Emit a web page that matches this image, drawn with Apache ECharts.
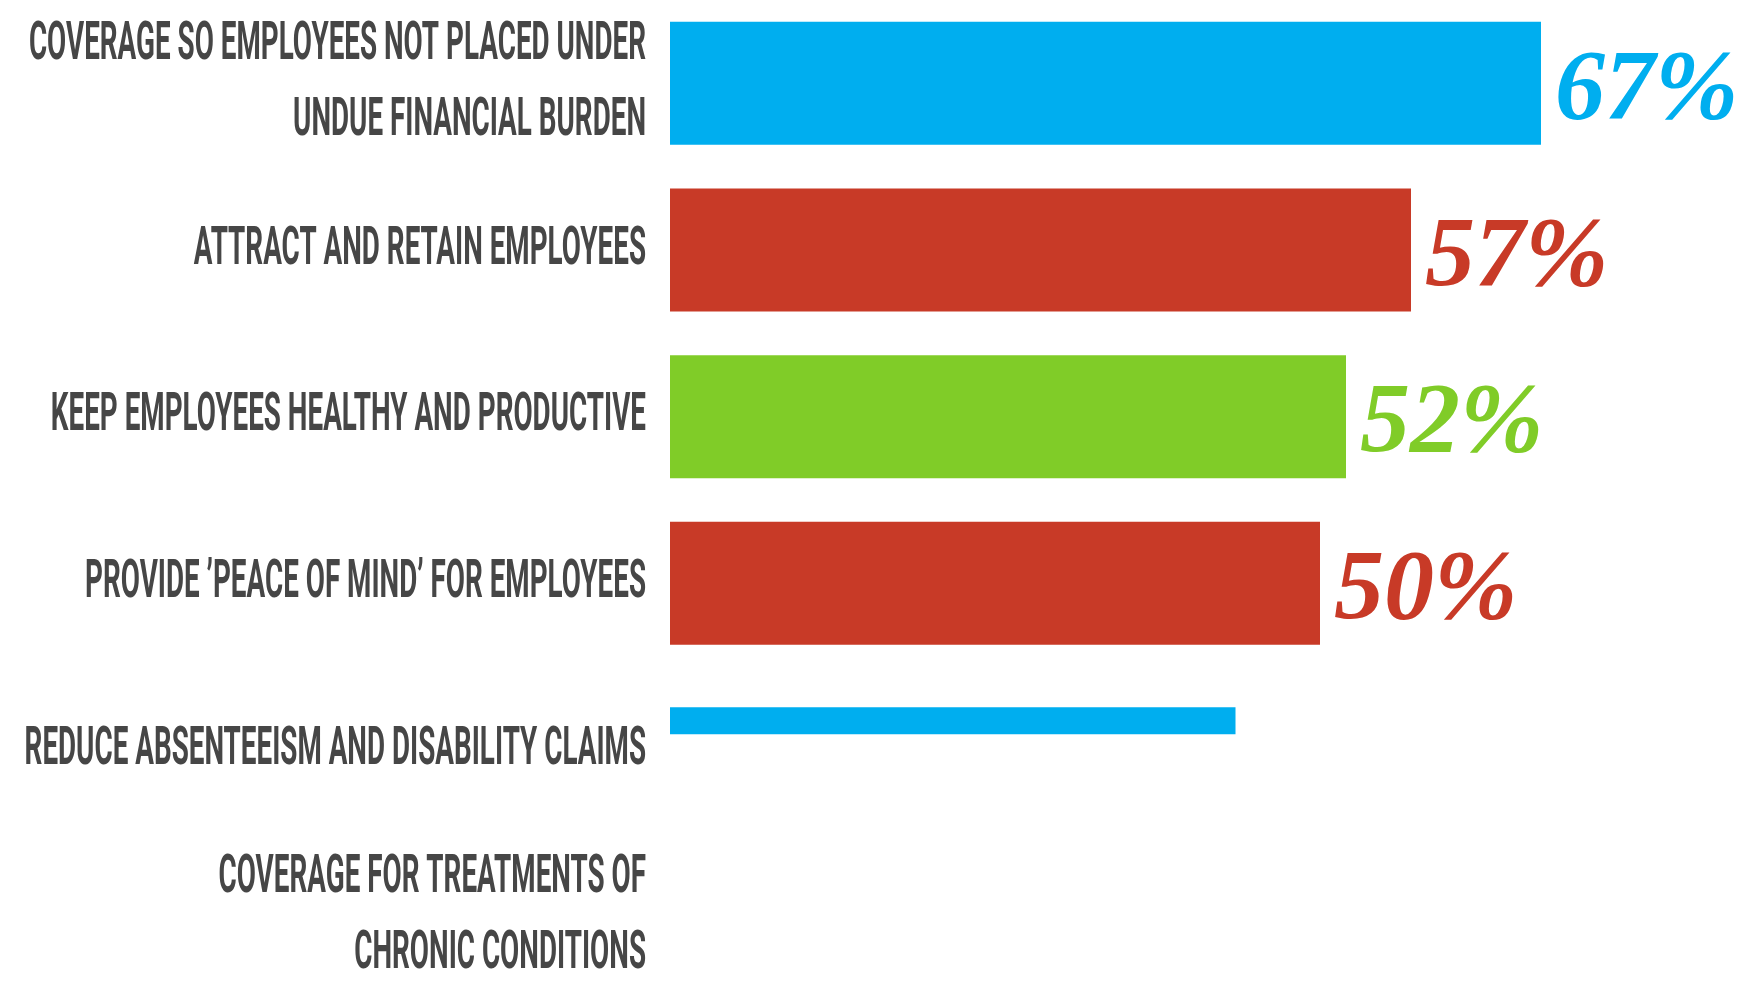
<!DOCTYPE html>
<html><head><meta charset="utf-8">
<script src="https://cdn.jsdelivr.net/npm/echarts@6/dist/echarts.min.js"></script>
<style>html,body{margin:0;padding:0;background:#fff}#c{width:1752px;height:990px}</style>
</head><body><div id="c"></div>
<script>
const categories = [
  'COVERAGE SO EMPLOYEES NOT PLACED UNDER\nUNDUE FINANCIAL BURDEN',
  'ATTRACT AND RETAIN EMPLOYEES',
  'KEEP EMPLOYEES HEALTHY AND PRODUCTIVE',
  'PROVIDE \u2019PEACE OF MIND\u2019 FOR EMPLOYEES',
  'REDUCE ABSENTEEISM AND DISABILITY CLAIMS',
  'COVERAGE FOR TREATMENTS OF\nCHRONIC CONDITIONS'
];
const values = [67, 57, 52, 50, null, null];
const partialValues = [null, null, null, null, 43.5, null];
const barColors = ['#00AEEF', '#C83A27', '#80CC28', '#C83A27', '#00AEEF', '#00AEEF'];

const chart = echarts.init(document.getElementById('c'));
function yAxisBase(gridIndex) {
  return {
    type: 'category', data: categories, inverse: true, gridIndex: gridIndex,
    axisLine: {show: false}, axisTick: {show: false}, axisLabel: {show: false}, splitLine: {show: false}
  };
}
function xAxisBase(gridIndex) {
  return {type: 'value', min: 0, max: 80, show: false, splitLine: {show: false}, gridIndex: gridIndex};
}
chart.setOption({
  animation: false,
  backgroundColor: '#fff',
  grid: [
    {left: 670, right: 42, top: 0, height: 1000, containLabel: false, outerBoundsMode: 'none'},
    {left: 670, right: 42, top: 0, height: 961, containLabel: false, outerBoundsMode: 'none'}
  ],
  xAxis: [xAxisBase(0), xAxisBase(1)],
  yAxis: [yAxisBase(0), yAxisBase(1)],
  series: [
    {
      type: 'bar', xAxisIndex: 0, yAxisIndex: 0, barWidth: 123,
      data: values.map((v, i) => ({value: v, itemStyle: {color: barColors[i]},
        label: {color: barColors[i]}})),
      label: {
        show: true, position: 'right', distance: 14,
        formatter: p => p.value + '%',
        fontFamily: 'Liberation Serif', fontStyle: 'italic', fontWeight: 'bold', fontSize: 100,
        offset: [0, 9]
      }
    },
    {
      type: 'bar', xAxisIndex: 1, yAxisIndex: 1, barWidth: 27,
      data: partialValues.map((v, i) => ({value: v, itemStyle: {color: barColors[i]}})),
      label: {show: false}
    },
    {
      type: 'custom', xAxisIndex: 0, yAxisIndex: 0, clip: false, silent: true,
      data: categories.map((c, i) => [0, i]),
      renderItem: function (params, api) {
        const pt = api.coord([0, api.value(1)]);
        return {
          type: 'text', x: pt[0] - 24, y: pt[1], scaleX: 0.515,
          style: {
            text: categories[params.dataIndex],
            align: 'right', verticalAlign: 'middle',
            fill: '#464646', fontFamily: 'Roboto', fontWeight: 'bold', fontSize: 54,
            lineHeight: 76
          }
        };
      }
    }
  ]
});
</script>
</body></html>
